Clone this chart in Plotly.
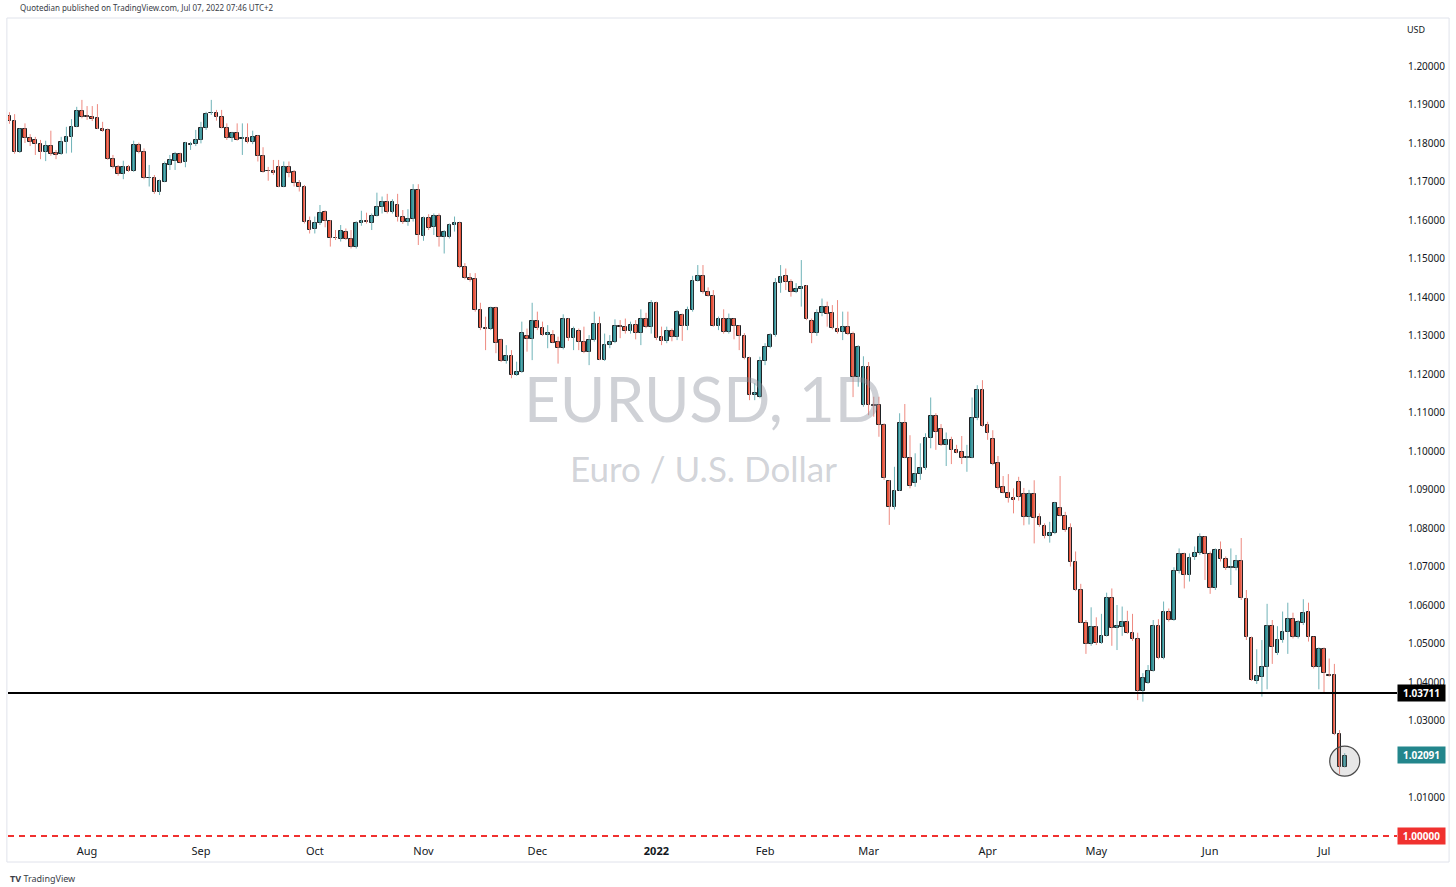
import numpy as np
import pandas as pd
import plotly.graph_objects as go

# ---- data (EURUSD daily) ----
start_date = "2021-07-12"
end_date = "2022-07-07"

open_ = [1.1870,1.1858,1.1777,1.1836,1.1812,1.1808,1.1797,1.1776,1.1792,1.1773,
         1.1771,1.1802,1.1816,1.1842,1.1884,1.1870,1.1867,1.1864,1.1836,1.1834,
         1.1758,1.1737,1.1719,1.1737,1.1728,1.1795,1.1776,1.1708,1.1708,1.1674,
         1.1700,1.1743,1.1754,1.1771,1.1751,1.1795,1.1797,1.1808,1.1840,1.1877,
         1.1877,1.1867,1.1840,1.1812,1.1825,1.1811,1.1812,1.1802,1.1818,1.1766,
         1.1728,1.1727,1.1738,1.1687,1.1738,1.1725,1.1697,1.1685,1.1597,1.1576,
         1.1593,1.1620,1.1598,1.1553,1.1550,1.1570,1.1550,1.1529,1.1593,1.1597,
         1.1593,1.1610,1.1633,1.1648,1.1622,1.1639,1.1607,1.1596,1.1602,1.1678,
         1.1559,1.1604,1.1581,1.1611,1.1555,1.1555,1.1587,1.1593,1.1477,1.1449,
         1.1446,1.1366,1.1320,1.1318,1.1372,1.1288,1.1233,1.1248,1.1197,1.1206,
         1.1299,1.1290,1.1338,1.1319,1.1301,1.1301,1.1284,1.1267,1.1342,1.1293,
         1.1312,1.1284,1.1258,1.1288,1.1330,1.1236,1.1275,1.1284,1.1325,1.1323,
         1.1312,1.1327,1.1307,1.1344,1.1323,1.1385,1.1295,1.1286,1.1312,1.1295,
         1.1353,1.1325,1.1366,1.1441,1.1455,1.1414,1.1403,1.1325,1.1342,1.1310,
         1.1342,1.1325,1.1299,1.1241,1.1145,1.1141,1.1234,1.1269,1.1301,1.1436,
         1.1455,1.1440,1.1414,1.1422,1.1428,1.1338,1.1306,1.1359,1.1373,1.1359,
         1.1317,1.1308,1.1323,1.1304,1.1191,1.1119,1.1217,1.1120,1.1119,1.1067,
         1.0923,1.0854,1.0897,1.1073,1.0983,1.0918,1.0940,1.0955,1.1033,1.1091,
         1.1056,1.1015,1.1028,1.1003,1.0997,1.0983,1.0983,1.1085,1.1158,1.1067,
         1.1030,1.0968,1.0906,1.0892,1.0879,1.0920,1.0888,1.0828,1.0888,1.0829,
         1.0805,1.0780,1.0786,1.0851,1.0832,1.0800,1.0711,1.0638,1.0554,1.0498,
         1.0542,1.0502,1.0520,1.0617,1.0539,1.0543,1.0557,1.0527,1.0511,1.0377,
         1.0398,1.0429,1.0545,1.0462,1.0583,1.0561,1.0689,1.0732,1.0678,1.0724,
         1.0734,1.0776,1.0733,1.0643,1.0743,1.0719,1.0697,1.0697,1.0715,1.0615,
         1.0513,1.0403,1.0414,1.0440,1.0545,1.0475,1.0509,1.0531,1.0563,1.0516,
         1.0552,1.0583,1.0516,1.0438,1.0485,1.0418,1.0418,1.0265,1.0180]

high = [1.1880,1.1875,1.1838,1.1851,1.1823,1.1816,1.1808,1.1806,1.1832,1.1782,
        1.1816,1.1842,1.1862,1.1894,1.1912,1.1896,1.1896,1.1901,1.1855,1.1838,
        1.1769,1.1743,1.1754,1.1743,1.1806,1.1801,1.1786,1.1743,1.1717,1.1705,
        1.1752,1.1769,1.1777,1.1775,1.1803,1.1803,1.1834,1.1855,1.1881,1.1912,
        1.1886,1.1886,1.1851,1.1829,1.1851,1.1851,1.1851,1.1832,1.1821,1.1789,
        1.1738,1.1756,1.1756,1.1752,1.1752,1.1730,1.1704,1.1691,1.1609,1.1609,
        1.1639,1.1625,1.1600,1.1574,1.1587,1.1578,1.1574,1.1597,1.1624,1.1619,
        1.1617,1.1671,1.1661,1.1668,1.1654,1.1668,1.1626,1.1628,1.1693,1.1693,
        1.1609,1.1615,1.1617,1.1617,1.1574,1.1591,1.1609,1.1596,1.1488,1.1462,
        1.1462,1.1385,1.1349,1.1375,1.1375,1.1292,1.1275,1.1262,1.1232,1.1336,
        1.1318,1.1385,1.1362,1.1336,1.1327,1.1314,1.1297,1.1355,1.1345,1.1323,
        1.1318,1.1323,1.1301,1.1362,1.1349,1.1305,1.1301,1.1342,1.1340,1.1344,
        1.1336,1.1340,1.1368,1.1359,1.1392,1.1388,1.1323,1.1323,1.1318,1.1366,
        1.1357,1.1375,1.1455,1.1483,1.1483,1.1425,1.1418,1.1349,1.1368,1.1357,
        1.1345,1.1327,1.1306,1.1245,1.1176,1.1245,1.1280,1.1306,1.1449,1.1483,
        1.1474,1.1446,1.1436,1.1496,1.1431,1.1344,1.1368,1.1396,1.1388,1.1379,
        1.1392,1.1362,1.1362,1.1310,1.1275,1.1246,1.1231,1.1141,1.1141,1.1072,
        1.0925,1.0959,1.1098,1.1122,1.1041,1.0994,1.1020,1.1046,1.1139,1.1098,
        1.1070,1.1048,1.1037,1.1016,1.1039,1.1016,1.1139,1.1171,1.1184,1.1076,
        1.1054,1.0987,1.0935,1.0940,1.0903,1.0933,1.0904,1.0899,1.0924,1.0838,
        1.0812,1.0816,1.0868,1.0935,1.0842,1.0812,1.0739,1.0655,1.0561,1.0594,
        1.0568,1.0577,1.0632,1.0643,1.0600,1.0596,1.0585,1.0577,1.0528,1.0423,
        1.0444,1.0561,1.0563,1.0609,1.0591,1.0698,1.0747,1.0736,1.0734,1.0752,
        1.0786,1.0779,1.0739,1.0747,1.0765,1.0726,1.0747,1.0730,1.0774,1.0639,
        1.0518,1.0485,1.0509,1.0603,1.0561,1.0545,1.0583,1.0606,1.0580,1.0561,
        1.0615,1.0606,1.0518,1.0490,1.0490,1.0461,1.0447,1.0275,1.0215]

low = [1.1850,1.1772,1.1774,1.1800,1.1792,1.1769,1.1758,1.1753,1.1767,1.1758,
       1.1769,1.1773,1.1775,1.1841,1.1864,1.1860,1.1857,1.1836,1.1829,1.1756,
       1.1734,1.1715,1.1706,1.1725,1.1725,1.1773,1.1706,1.1687,1.1668,1.1665,
       1.1698,1.1730,1.1730,1.1747,1.1737,1.1782,1.1792,1.1799,1.1834,1.1873,
       1.1858,1.1838,1.1808,1.1803,1.1806,1.1769,1.1799,1.1797,1.1752,1.1723,
       1.1702,1.1717,1.1685,1.1685,1.1711,1.1687,1.1674,1.1591,1.1565,1.1565,
       1.1587,1.1581,1.1531,1.1548,1.1544,1.1548,1.1526,1.1526,1.1585,1.1591,
       1.1574,1.1609,1.1617,1.1617,1.1617,1.1596,1.1590,1.1585,1.1596,1.1535,
       1.1546,1.1574,1.1561,1.1531,1.1513,1.1552,1.1570,1.1475,1.1446,1.1440,
       1.1362,1.1314,1.1262,1.1314,1.1254,1.1231,1.1227,1.1189,1.1195,1.1203,
       1.1258,1.1236,1.1314,1.1299,1.1267,1.1280,1.1227,1.1264,1.1286,1.1262,
       1.1262,1.1254,1.1223,1.1284,1.1236,1.1234,1.1267,1.1280,1.1293,1.1305,
       1.1305,1.1290,1.1275,1.1319,1.1305,1.1288,1.1275,1.1280,1.1285,1.1288,
       1.1286,1.1314,1.1362,1.1440,1.1409,1.1401,1.1323,1.1314,1.1305,1.1305,
       1.1290,1.1262,1.1238,1.1132,1.1132,1.1137,1.1223,1.1267,1.1297,1.1411,
       1.1418,1.1401,1.1410,1.1375,1.1340,1.1280,1.1299,1.1350,1.1323,1.1316,
       1.1305,1.1288,1.1301,1.1140,1.1167,1.1115,1.1093,1.1089,1.1037,1.0925,
       1.0808,1.0848,1.0896,1.0981,1.0903,1.0907,1.0925,1.0951,1.1007,1.1003,
       1.1013,1.0961,1.0966,1.0994,1.0966,1.0946,1.0981,1.1080,1.1063,1.1029,
       1.0963,1.0900,1.0890,1.0866,1.0838,1.0871,1.0807,1.0809,1.0760,1.0803,
       1.0773,1.0762,1.0784,1.0830,1.0790,1.0700,1.0636,1.0553,1.0473,1.0494,
       1.0496,1.0499,1.0518,1.0494,1.0483,1.0520,1.0525,1.0507,1.0353,1.0349,
       1.0395,1.0427,1.0459,1.0459,1.0557,1.0559,1.0682,1.0643,1.0661,1.0717,
       1.0730,1.0665,1.0629,1.0639,1.0713,1.0691,1.0652,1.0690,1.0613,1.0509,
       1.0403,1.0395,1.0362,1.0381,1.0447,1.0470,1.0502,1.0473,1.0513,1.0513,
       1.0548,1.0505,1.0435,1.0381,1.0371,1.0414,1.0262,1.0161,1.0178]

close = [1.1858,1.1777,1.1836,1.1812,1.1802,1.1797,1.1776,1.1792,1.1771,1.1769,
         1.1803,1.1816,1.1842,1.1884,1.1867,1.1868,1.1863,1.1836,1.1832,1.1758,
         1.1737,1.1719,1.1737,1.1728,1.1795,1.1776,1.1708,1.1709,1.1674,1.1702,
         1.1745,1.1756,1.1771,1.1749,1.1799,1.1797,1.1808,1.1840,1.1875,1.1879,
         1.1867,1.1838,1.1812,1.1825,1.1808,1.1812,1.1802,1.1816,1.1766,1.1725,
         1.1727,1.1721,1.1687,1.1738,1.1721,1.1697,1.1685,1.1596,1.1574,1.1593,
         1.1618,1.1598,1.1552,1.1552,1.1572,1.1550,1.1529,1.1593,1.1597,1.1596,
         1.1610,1.1633,1.1648,1.1622,1.1646,1.1607,1.1596,1.1602,1.1678,1.1561,
         1.1604,1.1578,1.1611,1.1555,1.1568,1.1587,1.1593,1.1477,1.1449,1.1444,
         1.1366,1.1319,1.1318,1.1372,1.1281,1.1233,1.1248,1.1197,1.1206,1.1306,
         1.1290,1.1338,1.1319,1.1301,1.1307,1.1281,1.1267,1.1342,1.1293,1.1316,
         1.1284,1.1258,1.1288,1.1330,1.1236,1.1275,1.1284,1.1325,1.1323,1.1312,
         1.1327,1.1307,1.1344,1.1323,1.1385,1.1293,1.1286,1.1312,1.1295,1.1362,
         1.1325,1.1366,1.1441,1.1455,1.1414,1.1403,1.1325,1.1342,1.1310,1.1342,
         1.1325,1.1299,1.1241,1.1145,1.1150,1.1234,1.1269,1.1301,1.1436,1.1451,
         1.1440,1.1414,1.1422,1.1427,1.1344,1.1306,1.1359,1.1373,1.1357,1.1319,
         1.1308,1.1323,1.1304,1.1193,1.1271,1.1217,1.1119,1.1117,1.1067,1.0929,
         1.0854,1.0897,1.1073,1.0983,1.0909,1.0940,1.0955,1.1033,1.1091,1.1050,
         1.1015,1.1028,1.1003,1.0996,1.0983,1.0984,1.1085,1.1158,1.1065,1.1048,
         1.0966,1.0903,1.0892,1.0877,1.0874,1.0881,1.0828,1.0888,1.0827,1.0808,
         1.0780,1.0786,1.0866,1.0832,1.0795,1.0712,1.0638,1.0554,1.0498,1.0542,
         1.0502,1.0520,1.0617,1.0539,1.0545,1.0557,1.0527,1.0511,1.0377,1.0410,
         1.0429,1.0545,1.0462,1.0583,1.0561,1.0689,1.0732,1.0678,1.0721,1.0734,
         1.0776,1.0733,1.0643,1.0743,1.0719,1.0695,1.0698,1.0715,1.0617,1.0516,
         1.0405,1.0416,1.0440,1.0545,1.0492,1.0509,1.0531,1.0563,1.0516,1.0557,
         1.0580,1.0516,1.0438,1.0485,1.0424,1.0416,1.0265,1.0180,1.0209]

support_level = 1.03711
parity_level = 1.00000
last_price = 1.02091
price_ticks = [1.01, 1.03, 1.04, 1.05, 1.06, 1.07, 1.08, 1.09, 1.10,
               1.11, 1.12, 1.13, 1.14, 1.15, 1.16, 1.17, 1.18, 1.19, 1.20]

# ---- styles ----
UP = "#23868c"
DOWN = "#e2492f"
UP_WICK = "#6fb3b8"
DOWN_WICK = "#ee8a80"
BORDER = "#1e2124"
TEXT = "#131722"

dates = pd.bdate_range(start_date, end_date)
o = np.array(open_); h = np.array(high); l = np.array(low); c = np.array(close)
n = len(o)
assert len(dates) == n == len(h) == len(l) == len(c)
idx = np.arange(n)
up = c >= o

# month tick positions (first bar of each new month)
tickvals, ticktext = [], []
for i in range(1, n):
    if dates[i].month != dates[i - 1].month:
        tickvals.append(i)
        ticktext.append("<b>%d</b>" % dates[i].year if dates[i].month == 1 else dates[i].strftime("%b"))

fig = go.Figure()

def wick_xy(mask):
    xs, ys = [], []
    for i in idx[mask]:
        xs += [i, i, None]
        ys += [l[i], h[i], None]
    return xs, ys

for mask, col in [(up, UP_WICK), (~up, DOWN_WICK)]:
    xs, ys = wick_xy(mask)
    fig.add_trace(go.Scatter(x=xs, y=ys, mode="lines", line=dict(color=col, width=1),
                             hoverinfo="skip", showlegend=False))

for mask, col in [(up, UP), (~up, DOWN)]:
    fig.add_trace(go.Bar(x=idx[mask], base=np.minimum(o, c)[mask],
                         y=np.abs(c - o)[mask], width=0.72,
                         marker=dict(color=col, line=dict(color=BORDER, width=1)),
                         hoverinfo="skip", showlegend=False))

# horizontal levels
fig.add_shape(type="line", xref="paper", x0=0, x1=1.0, yref="y",
              y0=support_level, y1=support_level, line=dict(color="#000000", width=2))
fig.add_shape(type="line", xref="paper", x0=0, x1=1.0, yref="y",
              y0=parity_level, y1=parity_level, line=dict(color="#f0312f", width=2, dash="6px,5px"))

# highlight circle around the last candle
fig.add_shape(type="circle", xref="x", yref="y", xsizemode="pixel", ysizemode="pixel",
              xanchor=int(idx[-1]), yanchor=float((o[-1] + c[-1]) / 2),
              x0=-15, x1=15, y0=-15, y1=15,
              line=dict(color="#4a4a4a", width=1.2), fillcolor="rgba(120,120,120,0.18)")

# chart frame
fig.add_shape(type="rect", xref="paper", yref="paper", x0=-0.0008, x1=1.0375, y0=-0.0268, y1=1.0,
              line=dict(color="#e0e3eb", width=1), fillcolor="rgba(0,0,0,0)", layer="below")

# price labels on the right axis
def price_box(val, bg):
    fig.add_annotation(xref="paper", x=1.0, xanchor="left", yref="y", y=val, yanchor="middle",
                       text="<b>%.5f</b>" % val, showarrow=False, bgcolor=bg,
                       font=dict(color="white", size=10, family="Noto Sans"),
                       borderpad=1, width=45, align="center")

price_box(support_level, "#000000")
price_box(last_price, UP)
price_box(parity_level, "#f0312f")

# watermark
fig.add_annotation(xref="paper", yref="paper", x=0.5004, y=0.5377, text="EURUSD, 1D",
                   showarrow=False, font=dict(size=62, color="rgba(140,145,158,0.42)", family="Lato"))
fig.add_annotation(xref="paper", yref="paper", x=0.5004, y=0.4526, text="Euro / U.S. Dollar",
                   showarrow=False, font=dict(size=35, color="rgba(140,145,158,0.40)", family="Lato"))

# header / footer / currency
fig.add_annotation(xref="paper", yref="paper", x=0.0072, y=1.0, yanchor="bottom", yshift=3,
                   xanchor="left", text="Quotedian published on TradingView.com, Jul 07, 2022 07:46 UTC+2",
                   showarrow=False, font=dict(size=8, color="#3a3e47", family="Noto Sans"))
fig.add_annotation(xref="paper", yref="paper", x=0.0, y=-0.037, yanchor="top", xanchor="left",
                   text="<b>TV</b> TradingView", showarrow=False,
                   font=dict(size=9, color="#3a3e47", family="Noto Sans"))
fig.add_annotation(xref="paper", yref="paper", x=1.0, xanchor="left", xshift=8, y=0.9866,
                   yanchor="middle", text="USD", showarrow=False,
                   font=dict(size=9, color=TEXT, family="Noto Sans"))

fig.update_layout(
    width=1456, height=887,
    margin=dict(l=8, r=59, t=18, b=47),
    paper_bgcolor="white", plot_bgcolor="white",
    barmode="overlay", bargap=0, showlegend=False,
    xaxis=dict(range=[-0.28, 268.1], tickvals=tickvals, ticktext=ticktext,
               showgrid=False, zeroline=False, showline=False, ticks="",
               ticklabelstandoff=3,
               tickfont=dict(size=11, color=TEXT, family="Noto Sans")),
    yaxis=dict(side="right", range=[0.99896, 1.21247], tickvals=price_ticks,
               tickformat=".5f", showgrid=False, zeroline=False, showline=False,
               ticks="", ticklabelstandoff=10,
               tickfont=dict(size=10, color=TEXT, family="Noto Sans")),
)

fig.write_html("out.html", config={"displayModeBar": False},
               post_script="document.body.style.margin='0';")
